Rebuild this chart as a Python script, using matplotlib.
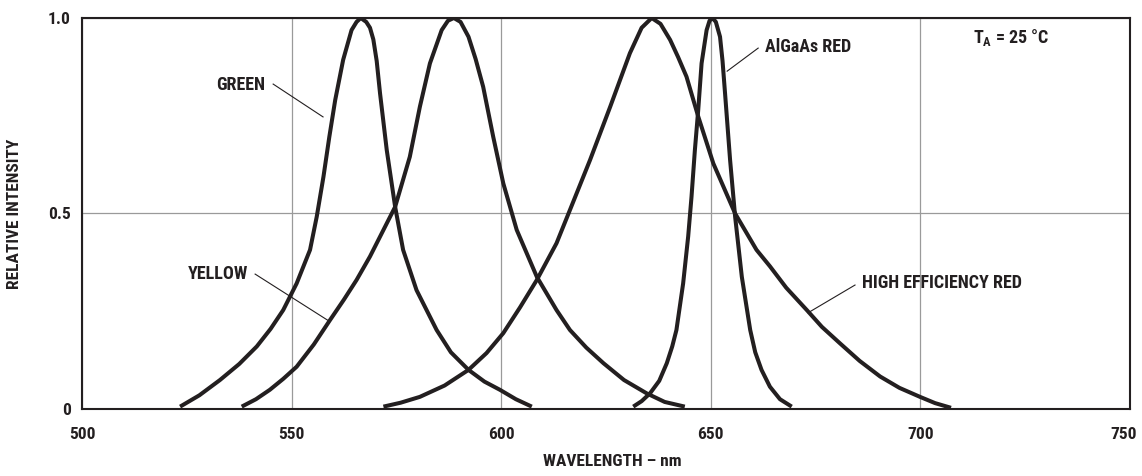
import os
import matplotlib
matplotlib.use("Agg")
import matplotlib.pyplot as plt
import matplotlib.transforms as mtransforms
from matplotlib import font_manager

# 曲线数据
green_nm = [523.4, 528.0, 532.9, 537.5, 541.7, 545.0, 548.0, 551.2, 554.4, 556.0,
            557.6, 559.0, 560.4, 562.3, 564.3, 565.5, 566.5, 567.8, 568.7, 569.5,
            570.3, 571.1, 572.7, 574.7, 576.6, 579.8, 584.6, 588.0, 592.2, 596.0,
            599.7, 603.5, 607.3]
green_y = [0.006, 0.035, 0.074, 0.115, 0.16, 0.205, 0.253, 0.321, 0.407, 0.492,
           0.594, 0.696, 0.79, 0.893, 0.969, 0.99, 1.0, 0.99, 0.975, 0.945,
           0.89, 0.807, 0.662, 0.517, 0.407, 0.304, 0.202, 0.145, 0.1, 0.07,
           0.049, 0.025, 0.006]

yellow_nm = [538.1, 541.5, 544.8, 548.0, 551.2, 555.3, 559.2, 562.5, 565.5, 568.7,
             574.7, 578.2, 580.6, 583.0, 585.8, 587.3, 588.7, 590.3, 592.2, 593.9,
             595.7, 598.1, 600.5, 603.7, 608.5, 613.2, 616.4, 620.3, 624.4, 629.3,
             634.7, 639.0, 643.8]
yellow_y = [0.006, 0.025, 0.049, 0.077, 0.108, 0.165, 0.228, 0.28, 0.33, 0.39,
            0.517, 0.645, 0.773, 0.884, 0.969, 0.993, 1.0, 0.99, 0.952, 0.895,
            0.824, 0.696, 0.577, 0.458, 0.338, 0.253, 0.202, 0.157, 0.117, 0.074,
            0.04, 0.018, 0.006]

her_nm = [571.9, 576.0, 580.6, 586.5, 592.2, 596.5, 600.5, 604.5, 608.5, 613.2,
          616.4, 621.2, 626.0, 630.7, 633.5, 635.9, 638.0, 640.3, 642.2, 644.2,
          647.0, 650.6, 655.8, 660.9, 664.1, 668.0, 672.9, 676.5, 680.8, 685.5,
          690.4, 695.0, 699.9, 703.5, 707.3]
her_y = [0.006, 0.016, 0.031, 0.06, 0.1, 0.143, 0.194, 0.26, 0.33, 0.424,
         0.509, 0.637, 0.773, 0.91, 0.975, 1.0, 0.985, 0.944, 0.9, 0.85,
         0.748, 0.628, 0.5, 0.407, 0.365, 0.31, 0.253, 0.21, 0.168, 0.123,
         0.083, 0.054, 0.031, 0.015, 0.003]

algaas_nm = [631.5, 633.5, 635.5, 637.7, 639.5, 640.8, 641.8, 643.4, 644.6, 645.4,
             646.2, 647.0, 647.8, 649.0, 649.7, 650.4, 651.2, 652.2, 652.8, 653.4,
             654.6, 655.8, 657.4, 659.4, 660.6, 662.1, 664.1, 666.5, 669.3]
algaas_y = [0.006, 0.02, 0.04, 0.072, 0.117, 0.16, 0.202, 0.321, 0.441, 0.543,
            0.662, 0.765, 0.884, 0.969, 0.993, 1.0, 0.99, 0.952, 0.89, 0.807,
            0.637, 0.492, 0.338, 0.202, 0.145, 0.1, 0.057, 0.025, 0.006]

x_ticks = [500, 550, 600, 650, 700, 750]
y_ticks = [0, 0.5, 1.0]
y_tick_labels = ["0", "0.5", "1.0"]

INK = "#231f20"


def pick_font():
    """
    选择窄体粗体字体，找不到就用 DejaVu Sans
    """
    prefer = ["liberationsansnarrow", "robotocondensed", "opensans_condensed",
              "opensanscondensed", "dejavusanscondensed"]
    cands = []
    for f in font_manager.fontManager.ttflist:
        fn = os.path.basename(f.fname).lower()
        if ("narrow" in fn or "condensed" in fn) and "bold" in fn \
                and "italic" not in fn and "oblique" not in fn:
            cands.append((fn, f))
    for p in prefer:
        for fn, f in cands:
            if fn.replace("-", "").startswith(p.replace("-", "")):
                return f.name, f.stretch, True
    if cands:
        return cands[0][1].name, cands[0][1].stretch, True
    return "DejaVu Sans", "normal", False


def main():
    font, stretch, narrow = pick_font()
    plt.rcParams["font.family"] = [font, "DejaVu Sans"]
    plt.rcParams["font.weight"] = "bold"
    plt.rcParams["axes.labelweight"] = "bold"
    plt.rcParams["font.stretch"] = stretch
    plt.rcParams["mathtext.fontset"] = "custom"
    plt.rcParams["mathtext.rm"] = f"{font}:bold"
    plt.rcParams["mathtext.it"] = f"{font}:bold"

    # 字号：窄体与参考图一致，普通体缩小一点
    tick_fs = 12.5 if narrow else 10.5
    lab_fs = 13 if narrow else 10.5
    axis_fs = 12.5 if narrow else 10

    fig = plt.figure(figsize=(11.42, 4.76), dpi=100)
    ax = fig.add_axes([0.0718, 0.1408, 0.9177, 0.8214])

    for xs, ys in [(green_nm, green_y), (yellow_nm, yellow_y),
                   (her_nm, her_y), (algaas_nm, algaas_y)]:
        ax.plot(xs, ys, color=INK, lw=2.9, solid_joinstyle="round",
                solid_capstyle="butt", zorder=3)

    ax.set_xlim(500, 750)
    ax.set_ylim(0, 1.0)
    ax.set_xticks(x_ticks)
    ax.set_yticks(y_ticks)
    ax.set_yticklabels(y_tick_labels)
    ax.grid(True, color="#9a9a9a", lw=0.9)
    ax.tick_params(length=0, labelsize=tick_fs, colors=INK)
    ax.tick_params(axis="x", pad=13)
    ax.tick_params(axis="y", pad=8)
    for lbl in ax.get_xticklabels() + ax.get_yticklabels():
        lbl.set_fontweight("bold")
    for sp in ax.spines.values():
        sp.set_color(INK)
        sp.set_linewidth(1.5)
        sp.set_zorder(4)

    # 最后一个刻度标签稍微左移
    last = ax.get_xticklabels()[-1]
    last.set_transform(last.get_transform()
                       + mtransforms.ScaledTranslation(-0.06, 0, fig.dpi_scale_trans))

    ax.set_xlabel("WAVELENGTH – nm", fontsize=axis_fs, color=INK, fontweight="bold")
    ax.set_ylabel("RELATIVE INTENSITY", fontsize=axis_fs, color=INK, fontweight="bold")
    ax.xaxis.set_label_coords(0.506, -0.1355)
    ax.yaxis.set_label_coords(-0.064, 0.5)
    ax.xaxis.label.set_va("center")
    ax.yaxis.label.set_va("center")

    # 曲线标注
    lab = dict(fontsize=lab_fs, color=INK, va="center", fontweight="bold")
    ax.text(543.7, 0.829, "GREEN", ha="right", **lab)
    ax.plot([545.6, 557.5], [0.831, 0.747], color=INK, lw=0.8)
    ax.text(539.6, 0.345, "YELLOW", ha="right", **lab)
    ax.plot([541.3, 558.9], [0.345, 0.225], color=INK, lw=0.8)
    ax.text(662.9, 0.926, "AlGaAs RED", ha="left", **lab)
    ax.plot([661.3, 653.9], [0.923, 0.864], color=INK, lw=0.8)
    ax.text(686.1, 0.322, "HIGH EFFICIENCY RED", ha="left", **lab)
    ax.plot([684.4, 673.2], [0.317, 0.246], color=INK, lw=0.8)
    ax.text(712.5, 0.951, r"$\mathrm{T_A}$ = 25 °C", ha="left", **lab)

    fig.savefig("out.png", dpi=100)
    plt.close(fig)


if __name__ == "__main__":
    main()
